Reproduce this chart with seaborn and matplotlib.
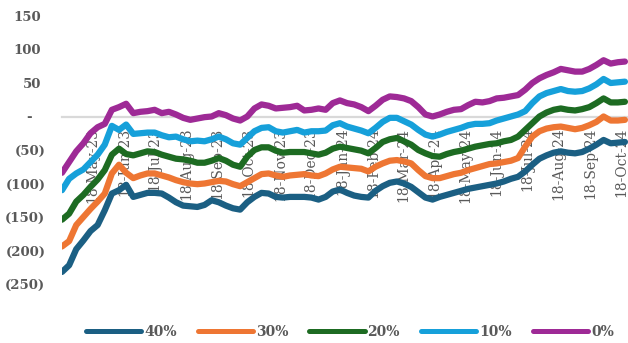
import matplotlib
matplotlib.use("Agg")
import matplotlib.pyplot as plt
import matplotlib.dates as mdates
import matplotlib.transforms as mtransforms
from matplotlib.ticker import FuncFormatter
import numpy as np
import pandas as pd
import seaborn as sns

# Weekly observations starting 18-Apr-2023
start_date = "2023-04-18"
n_weeks = 80

series_labels = ["40%", "30%", "20%", "10%", "0%"]
series_colors = ["#1B5F83", "#EE7633", "#1D6B22", "#16A0DA", "#9E2A96"]
y_ticks = [-250, -200, -150, -100, -50, 0, 50, 100, 150]

vals_40 = [-232, -222, -198, -185, -171, -162, -140, -115, -110, -102,
           -120, -117, -114, -114, -115, -121, -128, -133, -134, -135,
           -132, -125, -128, -133, -137, -139, -128, -120, -114, -115,
           -120, -121, -120, -120, -120, -121, -124, -120, -112, -109,
           -114, -118, -120, -121, -111, -104, -99, -97, -100, -105,
           -113, -121, -124, -120, -117, -114, -111, -108, -106, -104,
           -102, -100, -97, -93, -90, -82, -72, -63, -58, -54,
           -52, -54, -55, -53, -48, -42, -35, -40, -39, -38]

vals_30 = [-194, -186, -162, -150, -138, -127, -115, -85, -72, -84,
           -92, -88, -85, -85, -88, -91, -95, -98, -100, -101,
           -100, -98, -96, -97, -101, -104, -98, -92, -86, -85,
           -88, -90, -88, -87, -86, -88, -89, -85, -79, -75,
           -76, -77, -78, -82, -75, -70, -66, -65, -67, -70,
           -80, -89, -92, -92, -89, -86, -84, -80, -77, -74,
           -71, -70, -68, -66, -62, -45, -30, -22, -18, -16,
           -15, -17, -19, -17, -13, -8, 0, -6, -6, -5]

vals_20 = [-154, -145, -127, -117, -105, -94, -80, -57, -48, -56,
           -58, -55, -52, -53, -57, -60, -63, -64, -66, -69,
           -69, -66, -62, -66, -72, -75, -60, -50, -46, -46,
           -51, -54, -53, -53, -53, -55, -57, -54, -48, -45,
           -47, -49, -51, -55, -47, -38, -34, -32, -37, -42,
           -50, -55, -59, -60, -56, -53, -51, -48, -45, -43,
           -41, -40, -37, -35, -30, -20, -10, 0, 6, 10,
           12, 10, 9, 11, 14, 20, 27, 21, 21, 22]

vals_10 = [-110, -93, -85, -79, -68, -57, -42, -14, -20, -12,
           -26, -25, -24, -24, -28, -31, -30, -34, -37, -36,
           -37, -34, -30, -34, -40, -42, -32, -22, -17, -16,
           -22, -24, -22, -20, -24, -22, -22, -21, -13, -10,
           -15, -18, -21, -25, -17, -8, -2, -2, -7, -12,
           -20, -27, -30, -27, -23, -20, -17, -13, -11, -11,
           -10, -6, -3, 0, 3, 8, 20, 30, 35, 38,
           41, 38, 37, 38, 42, 48, 56, 50, 51, 52]

vals_0 = [-84, -68, -52, -40, -25, -16, -11, 10, 14, 19,
          5, 7, 8, 10, 5, 7, 3, -2, -5, -3,
          -1, 0, 5, 2, -3, -6, 0, 12, 18, 16,
          12, 13, 14, 16, 9, 10, 12, 10, 20, 24,
          20, 18, 14, 8, 16, 25, 30, 29, 27, 23,
          14, 3, 0, 3, 7, 10, 11, 17, 22, 21,
          23, 27, 28, 30, 32, 40, 50, 57, 62, 66,
          71, 69, 67, 67, 71, 77, 84, 79, 81, 82]

dates = pd.date_range(start_date, periods=n_weeks, freq="7D")
frames = []
for label, vals in zip(series_labels, [vals_40, vals_30, vals_20, vals_10, vals_0]):
    frames.append(pd.DataFrame({"date": dates, "value": vals, "series": label}))
df = pd.concat(frames, ignore_index=True)

sns.set_theme(style="white")
plt.rcParams["font.family"] = ["DejaVu Serif"]
text_color = "#595959"

fig = plt.figure(figsize=(6.28, 3.43), dpi=100)
ax = fig.add_axes([62 / 628, 1 - 284 / 343, 1 - 62 / 628, (284 - 16) / 343])

sns.lineplot(data=df, x="date", y="value", hue="series",
             hue_order=series_labels, palette=series_colors,
             linewidth=4.5, solid_capstyle="round", solid_joinstyle="round",
             ax=ax, legend=True, zorder=3)

x_start = pd.Timestamp(start_date)
x_end = x_start + pd.Timedelta(days=556)
ax.set_ylim(-250, 150)
ax.set_xlim(x_start, x_end)
ax.set_yticks(y_ticks)


def acct(v, pos):
    # accounting style: dash for zero, parentheses for negatives
    v = int(round(v))
    if v == 0:
        return "-"
    if v < 0:
        return f"({-v})"
    return f"{v}"


ax.yaxis.set_major_formatter(FuncFormatter(acct))

# monthly ticks on the 18th; their labels hang below the zero line
month_ticks = pd.date_range(x_start, x_end, freq="MS") + pd.Timedelta(days=17)
month_ticks = [d for d in month_ticks if x_start <= d <= x_end]
ax.set_xticks(month_ticks)
ax.tick_params(axis="x", length=0, labelbottom=False)
for d in month_ticks:
    ax.annotate(d.strftime("%d-%b-%y"), xy=(mdates.date2num(d), 0), xycoords="data",
                xytext=(0, -8), textcoords="offset points",
                rotation=90, rotation_mode="default", ha="center", va="top",
                fontsize=10, color=text_color, zorder=1.5, annotation_clip=False)

ax.set_xlabel("")
ax.set_ylabel("")
ax.grid(False)
for side in ["top", "right", "left"]:
    ax.spines[side].set_visible(False)
ax.spines["bottom"].set_position(("data", 0))
ax.spines["bottom"].set_color("#D9D9D9")
ax.spines["bottom"].set_linewidth(1.6)
ax.spines["bottom"].set_zorder(1)

ax.tick_params(axis="y", length=0, pad=12, labelsize=9.5, labelcolor=text_color)

# keep digits aligned as in an accounting number format
for tick, loc in zip(ax.yaxis.get_major_ticks(), y_ticks):
    tick.label1.set_fontweight("semibold")
    if loc == 0:
        shift = 13
    elif loc > 0:
        shift = 4
    else:
        shift = 0
    if shift:
        tick.label1.set_transform(tick.label1.get_transform() +
                                  mtransforms.ScaledTranslation(-shift / 100, 0, fig.dpi_scale_trans))

handles, labels = ax.get_legend_handles_labels()
for h in handles:
    h.set_linewidth(3.6)
    h.set_solid_capstyle("round")
leg = ax.legend(handles, labels, loc="center", ncol=5, frameon=False,
                bbox_to_anchor=(0.557, (343 - 332) / 343), bbox_transform=fig.transFigure,
                handlelength=4.0, handletextpad=0.2, columnspacing=1.5,
                prop={"size": 10, "weight": "semibold"})
for t in leg.get_texts():
    t.set_color(text_color)

fig.savefig("out.png", dpi=100)
